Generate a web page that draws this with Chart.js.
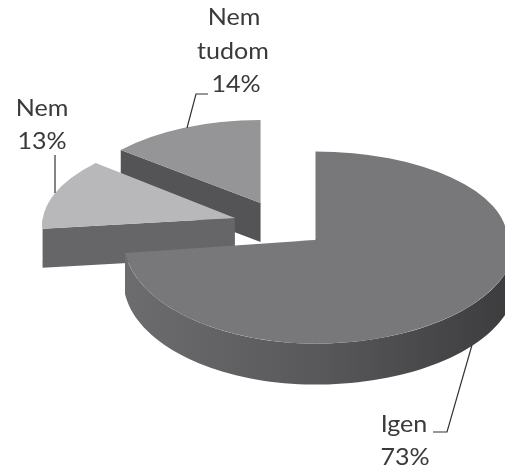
<!DOCTYPE html>
<html>
<head>
<meta charset="utf-8">
<script src="https://cdn.jsdelivr.net/npm/chart.js@4"></script>
<style>
  html, body { margin: 0; padding: 0; background: #fff; }
  canvas { display: block; filter: blur(0.5px); }
</style>
</head>
<body>
<canvas id="pie3d" width="505" height="470"></canvas>
<script>
// data
const categories = ['Igen', 'Nem', 'Nem tudom'];
const shares = [73, 13, 14];

// look of the slices
const topColors = ['#78787a', '#b8b8ba', '#959597'];
const faceColors = ['#5a5a5c', '#666668', '#545456'];
const explode = [46, 48, 48];
const flatUp = [0.46, 0.45, 0.432];   // squash behind the tip
const flatDown = [0.54, 0.45, 0.432]; // squash in front of the tip
const narrow = [1, 1, 0.945];         // far slices look narrower
const skew = [0, -0.0715, 0];
const wideRight = [1.045, 1, 1];      // front right quadrant comes closer
const depths = [41, 39, 39];
const drawOrder = [2, 1, 0];          // back to front

// where the pie sits on the page
const shiftX = 28.5;
const baseY = 224.7;
const flat = 0.5;

function tipOf(arc, i) {
  const mid = (arc.startAngle + arc.endAngle) / 2;
  return {
    x: arc.x + shiftX + explode[i] * Math.cos(mid),
    y: baseY + flat * explode[i] * Math.sin(mid)
  };
}

function pointAt(arc, i, angle) {
  const tip = tipOf(arc, i);
  const r = arc.outerRadius;
  const s = Math.sin(angle);
  const c = Math.cos(angle);
  const sx = narrow[i] * (s >= 0 && c > 0 ? wideRight[i] : 1);
  return {
    x: tip.x + r * (c * sx + s * skew[i]),
    y: tip.y + r * s * (s < 0 ? flatUp[i] : flatDown[i])
  };
}

function drawWalls(ctx, arc, i) {
  const tip = tipOf(arc, i);
  const a = pointAt(arc, i, arc.startAngle);
  const depth = depths[i];

  // cut face at the start of the slice
  ctx.fillStyle = faceColors[i];
  ctx.beginPath();
  ctx.moveTo(tip.x, tip.y);
  ctx.lineTo(a.x, a.y);
  ctx.lineTo(a.x, a.y + depth);
  ctx.lineTo(tip.x, tip.y + depth);
  ctx.closePath();
  ctx.fill();

  // rim, only the part that faces us
  const from = Math.max(arc.startAngle, 0);
  const to = Math.min(arc.endAngle, Math.PI);
  if (to <= from) return;
  const grad = ctx.createLinearGradient(arc.x + shiftX - 190, 0, arc.x + shiftX + 230, 0);
  grad.addColorStop(0, '#707072');
  grad.addColorStop(0.55, '#58585a');
  grad.addColorStop(1, '#3c3c3e');
  ctx.fillStyle = grad;
  ctx.beginPath();
  const steps = 80;
  for (let k = 0; k <= steps; k++) {
    const p = pointAt(arc, i, from + (to - from) * k / steps);
    ctx.lineTo(p.x, p.y);
  }
  for (let k = steps; k >= 0; k--) {
    const p = pointAt(arc, i, from + (to - from) * k / steps);
    ctx.lineTo(p.x, p.y + depth);
  }
  ctx.closePath();
  ctx.fill();
}

function drawTop(ctx, arc, i) {
  const tip = tipOf(arc, i);
  const parts = [
    { sx: narrow[i], s: flatUp[i], x: 0, y: 0, w: 505, h: tip.y + 0.5 },
    { sx: narrow[i], s: flatDown[i], x: 0, y: tip.y - 0.5, w: tip.x + 0.5, h: 470 },
    { sx: narrow[i] * wideRight[i], s: flatDown[i], x: tip.x - 0.5, y: tip.y - 0.5, w: 505, h: 470 }
  ];
  parts.forEach(function (part) {
    ctx.save();
    ctx.beginPath();
    ctx.rect(part.x, part.y, part.w, part.h);
    ctx.clip();
    ctx.transform(part.sx, 0, skew[i], part.s, tip.x, tip.y);
    ctx.translate(-arc.x, -arc.y);
    arc.draw(ctx);
    ctx.restore();
  });
}

const tiltedPie = {
  id: 'tiltedPie',
  beforeDatasetsDraw(chart) {
    const ctx = chart.ctx;
    const arcs = chart.getDatasetMeta(0).data;
    drawOrder.forEach(function (i) {
      drawWalls(ctx, arcs[i], i);
      drawTop(ctx, arcs[i], i);
    });
    return false;
  }
};

// data labels and their leader lines
const labelLines = [
  { x: 404, y: 432, text: categories[0] },
  { x: 405, y: 465, text: shares[0] + '%' },
  { x: 42, y: 116, text: categories[1] },
  { x: 42, y: 149, text: shares[1] + '%' },
  { x: 234, y: 25, text: 'Nem' },
  { x: 233, y: 59, text: 'tudom' },
  { x: 236, y: 92, text: shares[2] + '%' }
];
const leaders = [
  [[472, 345], [447, 432], [433, 432]],
  [[55, 193], [55, 155]],
  [[187, 128], [196, 94], [208, 94]]
];

const pieLabels = {
  id: 'pieLabels',
  afterDraw(chart) {
    const ctx = chart.ctx;
    ctx.save();
    ctx.strokeStyle = '#333';
    ctx.lineWidth = 1.2;
    leaders.forEach(function (line) {
      ctx.beginPath();
      line.forEach(function (p) { ctx.lineTo(p[0], p[1]); });
      ctx.stroke();
    });
    ctx.fillStyle = '#3a3a3a';
    ctx.font = '23px Lato';
    ctx.textAlign = 'center';
    ctx.textBaseline = 'alphabetic';
    labelLines.forEach(function (l) {
      // the reference lettering is stretched sideways
      ctx.save();
      ctx.translate(l.x, l.y);
      ctx.scale(1.09, 1);
      ctx.fillText(l.text, 0, 0);
      ctx.restore();
    });
    ctx.restore();
  }
};

new Chart(document.getElementById('pie3d').getContext('2d'), {
  type: 'pie',
  data: {
    labels: categories,
    datasets: [{
      data: shares,
      backgroundColor: topColors,
      borderWidth: 0
    }]
  },
  options: {
    responsive: false,
    animation: false,
    radius: 192,
    rotation: 0,
    plugins: {
      legend: { display: false },
      tooltip: { enabled: false }
    }
  },
  plugins: [tiltedPie, pieLabels]
});
</script>
</body>
</html>
